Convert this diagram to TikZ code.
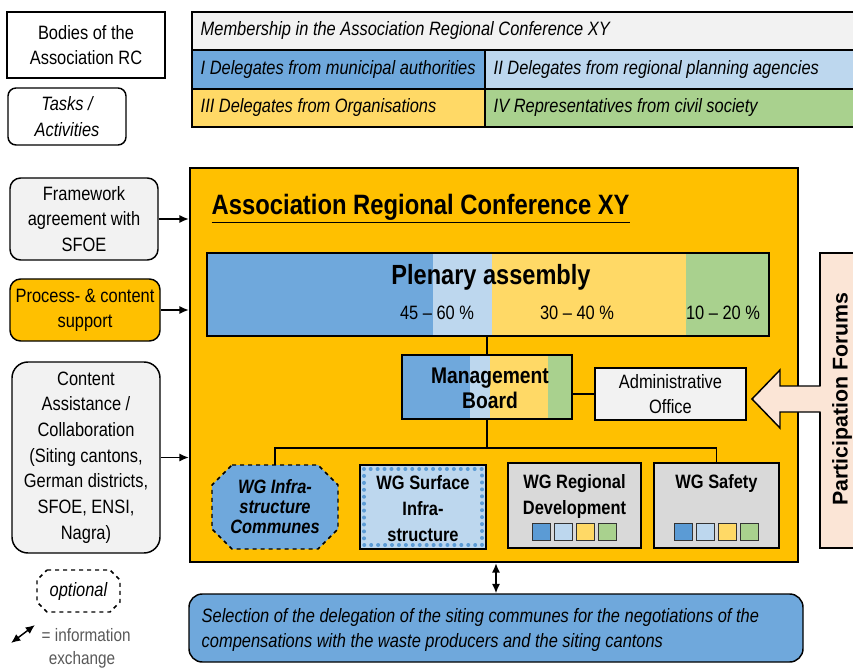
\documentclass[tikz,border=0pt]{standalone}
\usepackage{fontspec}
\setmainfont[FakeStretch=0.85]{Liberation Sans}
\newfontfamily\plainsans{Liberation Sans}
\usetikzlibrary{fit,arrows.meta}
\definecolor{cblue}{HTML}{6FA8DC}
\definecolor{cdblue}{HTML}{5B9BD5}
\definecolor{clblue}{HTML}{BDD7EE}
\definecolor{cyellow}{HTML}{FFD966}
\definecolor{cgreen}{HTML}{A9D18E}
\definecolor{corange}{HTML}{FFC000}
\definecolor{clgray}{HTML}{F2F2F2}
\definecolor{cgray}{HTML}{D9D9D9}
\definecolor{cpeach}{HTML}{FBE5D6}
\definecolor{ctext}{HTML}{595959}
\begin{document}
\begin{tikzpicture}[x=0.75pt,y=-0.75pt,
  fitbox/.style={inner sep=0pt, draw=black, line width=1.1pt},
  bare/.style={inner sep=0pt},
  txt/.style={font=\fontsize{14.5}{19}\selectfont, align=center},
  ittxt/.style={font=\fontsize{14.5}{19}\selectfont\itshape},
  bftxt/.style={font=\fontsize{14.5}{19.5}\selectfont\bfseries, align=center},
  sq/.style={draw=black!80, line width=0.9pt, minimum size=13pt, inner sep=0pt},
  conn/.style={line width=1.1pt},
  arr/.style={line width=1.1pt, -{Latex[length=7pt,width=6pt]}},
  darr/.style={line width=1.1pt, {Latex[length=7pt,width=6pt]}-{Latex[length=7pt,width=6pt]}}
]
\useasboundingbox (0,0) rectangle (853,670);

% legend boxes
\node[fitbox, fill=white, fit={(7,12)(165,78)}] (bodies) {};
\node[txt] (bodiest) at (bodies.center) {Bodies of the\\Association RC};
\node[fitbox, fill=white, rounded corners=6pt, fit={(8,88)(126,145)}] (tasks) {};
\node[txt, font=\fontsize{14.5}{19}\selectfont\itshape] (taskst) at (tasks.center) {Tasks /\\Activities};

% membership table
\node[fitbox, fill=clgray, fit={(192,12)(875,50)}] (mem) {};
\node[ittxt, anchor=west] (memt) at (196,31) {Membership in the Association Regional Conference XY};
\node[fitbox, fill=cblue, fit={(192,50)(485,89)}] (ra) {};
\node[ittxt, anchor=west] (rat) at (196,69.5) {I Delegates from municipal authorities};
\node[fitbox, fill=clblue, fit={(485,50)(875,89)}] (rb) {};
\node[ittxt, anchor=west] (rbt) at (489,69.5) {II Delegates from regional planning agencies};
\node[fitbox, fill=cyellow, fit={(192,89)(485,127)}] (rc) {};
\node[ittxt, anchor=west] (rct) at (196,108) {III Delegates from Organisations};
\node[fitbox, fill=cgreen, fit={(485,89)(875,127)}] (rd) {};
\node[ittxt, anchor=west] (rdt) at (489,108) {IV Representatives from civil society};

% left task boxes
\node[fitbox, fill=clgray, rounded corners=8pt, fit={(10,178)(158,260)}] (fw) {};
\node[txt] (fwt) at (fw.center) {Framework\\agreement with\\SFOE};
\node[fitbox, fill=corange, rounded corners=8pt, fit={(10,279)(160,341)}] (proc) {};
\node[txt] (proct) at (proc.center) {Process- \& content\\support};
\node[fitbox, fill=clgray, rounded corners=12pt, fit={(12,362)(160,553)}] (cont) {};
\node[txt, font=\fontsize{14.5}{19.3}\selectfont] (contt) at (cont.center) {Content\\Assistance /\\Collaboration\\(Siting cantons,\\German districts,\\SFOE, ENSI,\\Nagra)};

% main association box
\node[fitbox, line width=1.8pt, fill=corange, fit={(190,168)(798,562)}] (arc) {};
\draw[arr] (fw.east) -- (fw.east -| arc.west);
\draw[arr] (proc.east) -- (proc.east -| arc.west);
\draw[arr] (cont.east) -- (cont.east -| arc.west);

\node[anchor=west, font=\fontsize{21}{24}\selectfont\bfseries] (title) at (207,209) {\underline{Association Regional Conference XY}};

% plenary assembly
\fill[cblue] (207,253) rectangle (433,336);
\fill[clblue] (433,253) rectangle (492,336);
\fill[cyellow] (492,253) rectangle (686,336);
\fill[cgreen] (686,253) rectangle (769,336);
\node[fitbox, fit={(207,253)(769,336)}] (plen) {};
\node[font=\fontsize{20.8}{24}\selectfont\bfseries] (plent) at (491,277) {Plenary assembly};
\node[txt] (p1) at (437,313) {45 -- 60 \%};
\node[txt] (p2) at (577,313) {30 -- 40 \%};
\node[txt] (p3) at (723,313) {10 -- 20 \%};

% management board
\fill[cblue] (402,355) rectangle (470,419);
\fill[clblue] (470,355) rectangle (490,419);
\fill[cyellow] (490,355) rectangle (548,419);
\fill[cgreen] (548,355) rectangle (572,419);
\node[fitbox, fit={(402,355)(572,419)}] (mb) {};
\node[font=\fontsize{17}{19}\selectfont\bfseries, align=center] (mbt) at (490,388) {Management\\Board};

\node[fitbox, fill=clgray, fit={(595,368)(746,420)}] (admin) {};
\node[txt] (admint) at (admin.center) {Administrative\\Office};

\draw[conn] (plen.south -| mb.north) -- (mb.north);
\draw[conn] (mb.east |- admin.west) -- (admin.west);

% working groups
\draw[dashed, fill=cblue, line width=1.1pt] (232,465) -- (318,465) -- (338,485) -- (338,529) -- (318,549) -- (232,549) -- (212,529) -- (212,485) -- cycle;
\node[bare, fit={(212,465)(338,549)}] (wgi) {};
\node[font=\fontsize{14.5}{15}\selectfont\bfseries\itshape, align=center] (wgit) at (wgi.center) {WG Infra-\\structure\\Communes};

\fill[clblue] (360,465) rectangle (486,549);
\draw[cdblue, line width=3pt, dash pattern=on 0pt off 5.2pt, line cap=round] (364,469) rectangle (482,545);
\node[fitbox, fit={(360,465)(486,549)}] (wgs) {};
\node[bftxt] (wgst) at ([yshift=-1.5pt]wgs.center) {WG Surface\\Infra-\\structure};

\node[fitbox, fill=cgray, fit={(508,463)(641,548)}] (wgr) {};
\node[bftxt, anchor=north] (wgrt) at (574.5,470) {WG Regional\\Development};
\node[fitbox, fill=cgray, fit={(654,463)(779,548)}] (wgsaf) {};
\node[bftxt, anchor=north] (wgsaft) at (716.5,470) {WG Safety};
\foreach \c [count=\i] in {cdblue,clblue,cyellow,cgreen}{
  \node[sq, fill=\c] (rsq\i) at (541.5+22*\i-22, 532) {};
  \node[sq, fill=\c] (ssq\i) at (683.5+22*\i-22, 532) {};
}

\coordinate (busy) at (0,448);
\draw[conn] (mb.south) -- (mb.south |- busy) -| (wgi.north);
\draw[conn] (mb.south |- busy) -| (wgsaf.north);

% participation forums
\node[fitbox, fill=cpeach, fit={(820,253)(875,548)}] (pf) {};
\node[rotate=90, font=\fontsize{16}{19}\plainsans\bfseries] (pft) at (842,399) {Participation Forums};
\fill[cpeach] (822,386) -- (780,386) -- (780,370) -- (752,399) -- (780,428) -- (780,412) -- (822,412) -- cycle;
\draw[line width=1.1pt, line join=miter] (820.5,386) -- (780,386) -- (780,370) -- (752,399) -- (780,428) -- (780,412) -- (820.5,412);

% selection box
\node[fitbox, fill=cblue, rounded corners=10pt, fit={(189,594)(803,662)}] (sel) {};
\node[anchor=west, align=left, font=\fontsize{14.5}{18.8}\selectfont\itshape] (selt) at (197,630) {Selection of the delegation of the siting communes for the negotiations of the\\compensations with the waste producers and the siting cantons};
\draw[darr] (sel.north) -- (sel.north |- arc.south);

% legend bottom-left
\draw[dashed, line width=1.1pt] (47,570) -- (110,570) -- (120,580) -- (120,602) -- (110,612) -- (47,612) -- (37,602) -- (37,580) -- cycle;
\node[bare, fit={(37,570)(120,612)}] (opt) {};
\node[ittxt] (optt) at (opt.center) {optional};
\coordinate (la1) at (11,643);
\coordinate (la2) at (35,625);
\draw[darr] (la1) -- (la2);
\node[anchor=west, text=ctext, font=\fontsize{13.5}{17}\selectfont] (leg1) at (37,635) {= information};
\node[text=ctext, font=\fontsize{13.5}{17}\selectfont] (leg2) at (82,660) {exchange};
\end{tikzpicture}
\end{document}
